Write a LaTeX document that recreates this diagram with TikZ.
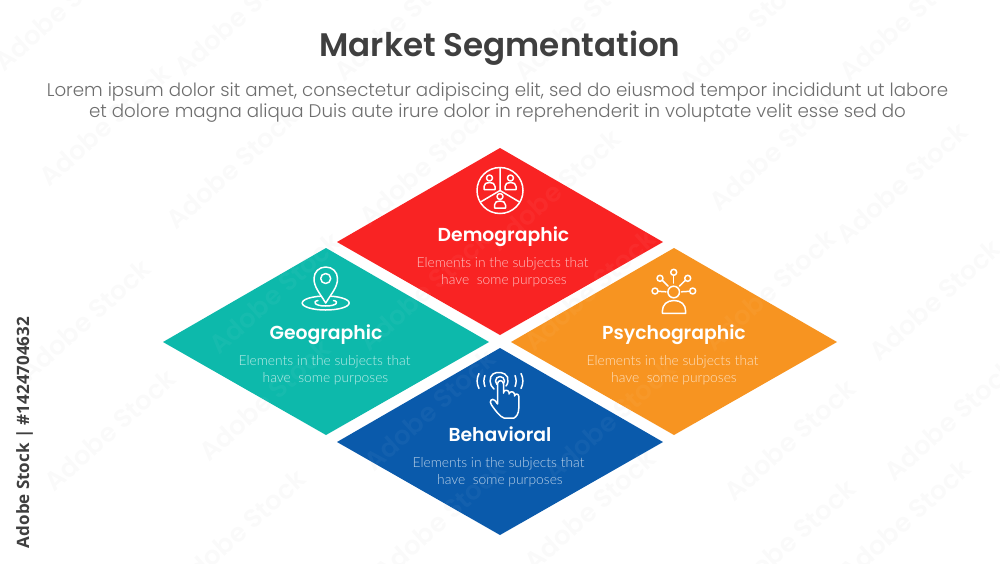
\documentclass[tikz,border=0pt]{standalone}
\usepackage{fontspec}
\setmainfont{Poppins}
\newfontfamily\titlefont{Poppins SemiBold}
\newfontfamily\leadfont{Poppins Light}
\newfontfamily\descfont{Lato Light}
\newfontfamily\sidefont{Open Sans}
\definecolor{cred}{HTML}{F92323}
\definecolor{cteal}{HTML}{0DB9AB}
\definecolor{corange}{HTML}{F79421}
\definecolor{cblue}{HTML}{0A5AAB}
\definecolor{ctitle}{HTML}{3F3F3F}
\definecolor{clead}{HTML}{6E6E6E}
\newcommand{\marklayer}[2]{%
  \foreach \mx/\my in {60/10,240/15,400/20,580/20,745/30,905/20,
    105/125,232/168,425/165,555/190,775/150,902/183,
    85/320,275/293,425/290,590/290,770/290,935/300,
    110/430,265/400,430/410,610/420,790/440,950/420,
    240/530,440/520,590/510,790/540,905/520}{%
    \node[markstyle,text=#1,text opacity=#2] at (\mx,\my) {Adobe Stock};}}
\tikzset{
  x=1pt,y=-1pt,
  markstyle/.style={rotate=42,font=\titlefont\fontsize{26}{26}\selectfont},
  titletext/.style={anchor=base,text=ctitle,inner sep=0,font=\titlefont\fontsize{32.6}{33}\selectfont},
  leadtext/.style={anchor=base,text=clead,inner sep=0,font=\leadfont\fontsize{18.24}{18.4}\selectfont},
  headtext/.style={anchor=base,text=white,inner sep=0,font=\titlefont\fontsize{18.8}{18.8}\selectfont},
  desctext/.style={anchor=base,text=white,text opacity=.72,inner sep=0,font=\descfont\fontsize{13.8}{14.6}\selectfont},
  sidetext/.style={anchor=base,rotate=90,text=ctitle,inner sep=0,font=\sidefont\bfseries\fontsize{17}{17}\selectfont},
  icon/.style={draw=white,line width=1.5pt,line join=round,line cap=round},
}
\begin{document}
\begin{tikzpicture}
\useasboundingbox (0,0) rectangle (1000,563);
\fill[white] (0,0) rectangle (1000,563);
\marklayer{black}{.018}
% diamonds
\fill[cred] (500,148) -- (663,242) -- (500,335) -- (337,242) -- cycle;
\fill[cteal] (326,248) -- (489,342) -- (326,435) -- (163,342) -- cycle;
\fill[corange] (674,248) -- (837,342) -- (674,435) -- (511,342) -- cycle;
\fill[cblue] (500,348) -- (663,442) -- (500,535) -- (337,442) -- cycle;
\begin{scope}
\clip (500,148) -- (663,242) -- (500,335) -- (337,242) -- cycle
      (326,248) -- (489,342) -- (326,435) -- (163,342) -- cycle
      (674,248) -- (837,342) -- (674,435) -- (511,342) -- cycle
      (500,348) -- (663,442) -- (500,535) -- (337,442) -- cycle;
\marklayer{white}{.04}
\end{scope}
% texts
\node[titletext] (title) at (500,56.5) {Market Segmentation};
\node[leadtext] (lead1) at (497.5,96) {Lorem ipsum dolor sit amet, consectetur adipiscing elit, sed do eiusmod tempor incididunt ut labore};
\node[leadtext] (lead2) at (497.5,117) {et dolore magna aliqua Duis aute irure dolor in reprehenderit in voluptate velit esse sed do};
\node[headtext] (h1) at (503.5,241.5) {Demographic};
\node[desctext] (d1a) at (502.5,267) {Elements in the subjects that};
\node[desctext] (d1b) at (504,284) {have\ \ some purposes};
\node[headtext] (h2) at (326,339) {Geographic};
\node[desctext] (d2a) at (324.5,365) {Elements in the subjects that};
\node[desctext] (d2b) at (325.5,382) {have\ \ some purposes};
\node[headtext] (h3) at (674,339) {Psychographic};
\node[desctext] (d3a) at (672.5,365) {Elements in the subjects that};
\node[desctext] (d3b) at (674,382) {have\ \ some purposes};
\node[headtext] (h4) at (500,441) {Behavioral};
\node[desctext] (d4a) at (498.5,467) {Elements in the subjects that};
\node[desctext] (d4b) at (500,484) {have\ \ some purposes};
\node[sidetext] (side) at (29,432.5) {Adobe Stock | \#1424704632};
% demographic icon
\draw[icon] (500,190.5) circle (23);
\draw[icon] (500,167.5) -- (500,190.5) -- (480.5,202);
\draw[icon] (500,190.5) -- (519.5,202);
\foreach \px/\py in {489.5/178,510.5/178,500/196.5}{
  \draw[icon] (\px,\py) circle (3);
  \draw[icon] (\px-5.5,\py+11.5) -- (\px-5.5,\py+8.5) .. controls (\px-5.5,\py+5.5) and (\px-3,\py+4.5) .. (\px,\py+4.5) .. controls (\px+3,\py+4.5) and (\px+5.5,\py+5.5) .. (\px+5.5,\py+8.5) -- (\px+5.5,\py+11.5) -- cycle;
}
% geographic icon
\draw[icon] (325.7,303) ellipse (23.5 and 7);
\draw[icon] (318,300.5) .. controls (312,301.5) and (314.5,306) .. (325.7,306) .. controls (337,306) and (339.5,301.5) .. (333.5,300.5);
\draw[icon,fill=cteal] (325.7,303) .. controls (319,292) and (314,287) .. (314,278.5) .. controls (314,272) and (319,267) .. (325.7,267) .. controls (332.5,267) and (337.5,272) .. (337.5,278.5) .. controls (337.5,287) and (332.5,292) .. (325.7,303) -- cycle;
\draw[icon] (325.7,278.5) circle (5);
% psychographic icon
\draw[icon] (673.7,292) circle (5.8);
\foreach \px/\py in {673.7/272.3,660/278.3,687.7/278.3,655/291,692.7/291}
  \draw[icon] (\px,\py) circle (3);
\draw[icon] (673.7,275.3) -- (673.7,283);
\draw[icon] (662.5,280.5) -- (668,286);
\draw[icon] (685.2,280.5) -- (679.5,286);
\draw[icon] (658,291.3) -- (666,291.8);
\draw[icon] (689.7,291.3) -- (681.5,291.8);
\draw[icon] (662.3,313.3) -- (662.3,311.5) .. controls (662.3,304.5) and (667,300.5) .. (674,300.5) .. controls (681,300.5) and (685.7,304.5) .. (685.7,311.5) -- (685.7,313.3) -- cycle;
% behavioral icon
\draw[icon] (500,381) circle (4.5);
\draw[icon] (494,389) .. controls (489,385.5) and (489,376.5) .. (493,374) .. controls (497,371) and (505,372) .. (507.5,377) .. controls (508.5,380) and (508,384) .. (506,386);
\draw[icon] (479,373.5) .. controls (476.5,378) and (476.5,384) .. (479,388.5);
\draw[icon] (485,375.5) .. controls (483.5,379) and (483.5,383) .. (485,386.5);
\draw[icon] (521,373.5) .. controls (523.5,378) and (523.5,384) .. (521,388.5);
\draw[icon] (515,375.5) .. controls (516.5,379) and (516.5,383) .. (515,386.5);
\draw[icon,fill=cblue] (497.5,404) -- (497.5,384) .. controls (497.5,379.5) and (503.5,379.5) .. (503.5,384) -- (503.5,393) -- (503.5,392.5) .. controls (504,389.5) and (508.5,389.5) .. (509,392.5) -- (509,394) .. controls (509.5,391) and (514,391) .. (514.5,394) -- (514.5,396) .. controls (515,393) and (518.8,393.5) .. (518.8,396.5) -- (518.8,408) .. controls (518.8,414) and (516,417) .. (514,418) -- (504,418) .. controls (500,417) and (495,410) .. (491.5,405) .. controls (488.5,401) and (492,397.5) .. (495,400.5) -- cycle;
\end{tikzpicture}
\end{document}
